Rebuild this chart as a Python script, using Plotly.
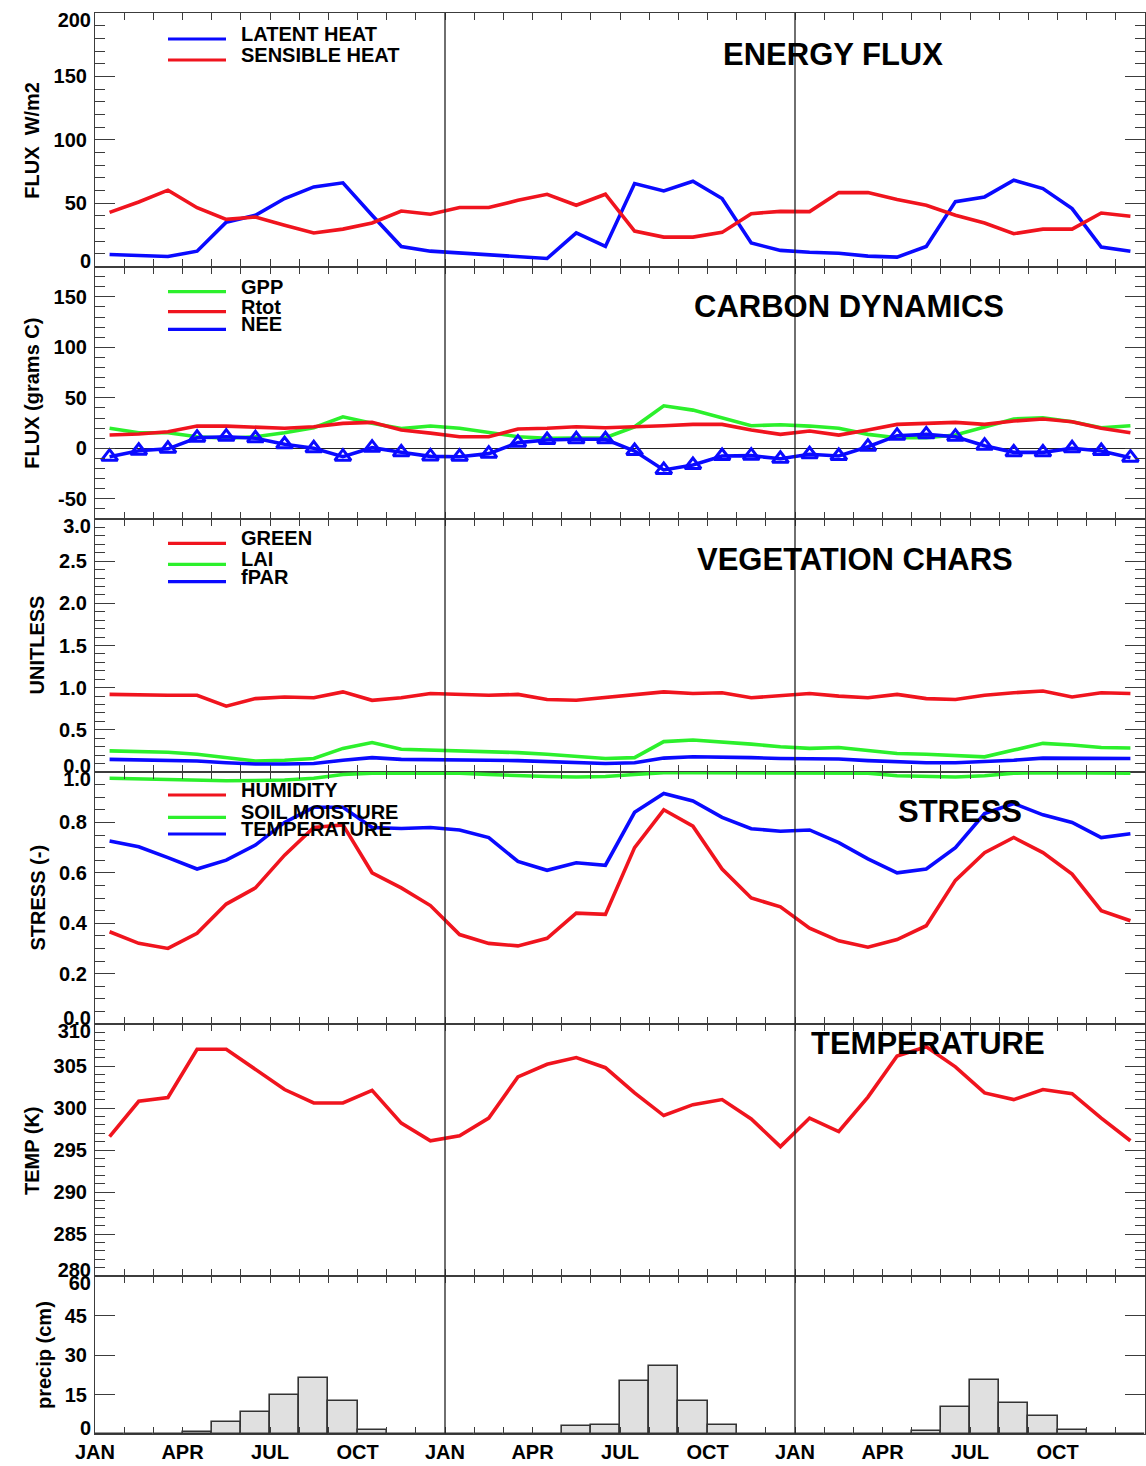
import plotly.graph_objects as go

# ---------------- data ----------------
month_index = list(range(36))
month_centers = [m + 0.5 for m in month_index]
tick_months = list(range(37))
month_names = ["JAN", "FEB", "MAR", "APR", "MAY", "JUN", "JUL", "AUG", "SEP", "OCT", "NOV", "DEC"]
x_tick_text = [month_names[m % 12] if (m % 3 == 0 and m < 36) else "" for m in tick_months]

latent_heat = [9.5, 8.7, 7.9, 12.1, 35.0, 40.4, 53.6, 62.8, 66.0, 40.4, 15.8, 12.1,
               10.5, 9.0, 7.4, 6.3, 26.6, 15.8, 65.4, 59.6, 67.3, 53.6, 18.5, 12.7,
               11.3, 10.5, 8.2, 7.4, 15.8, 51.2, 54.9, 68.1, 61.5, 45.7, 15.3, 12.1]
sensible_heat = [42.7, 50.9, 60.2, 46.4, 37.2, 39.0, 32.5, 26.4, 29.5, 34.3, 43.8, 41.2,
                 46.5, 46.5, 52.2, 57.0, 48.3, 57.0, 28.0, 23.2, 23.2, 26.9, 41.7, 43.5,
                 43.3, 58.3, 58.3, 52.8, 48.3, 40.4, 34.3, 25.9, 29.5, 29.5, 42.2, 39.6]

gpp = [19.8, 15.4, 15.4, 11.5, 9.9, 11.5, 15.4, 20.4, 31.2, 24.7, 19.5, 22.0,
       19.8, 15.8, 11.5, 9.9, 9.9, 10.5, 21.3, 42.1, 37.8, 30.3, 22.4, 23.3,
       22.0, 19.8, 13.8, 10.5, 10.5, 13.1, 21.3, 29.0, 30.3, 26.3, 20.4, 22.4]
rtot = [13.1, 14.1, 16.4, 22.0, 22.0, 21.3, 19.8, 21.3, 24.7, 25.7, 18.1, 15.0,
        11.5, 11.5, 19.1, 19.8, 21.3, 20.4, 21.0, 22.4, 23.7, 23.7, 18.1, 13.8,
        17.1, 13.1, 18.1, 23.7, 24.7, 25.7, 23.7, 27.0, 29.0, 26.3, 19.8, 15.4]
nee = [-8.3, -2.4, -0.5, 10.5, 11.5, 9.9, 4.0, 0.0, -8.3, 0.6, -4.0, -8.0,
       -8.3, -5.3, 5.6, 8.2, 8.9, 8.9, -2.7, -21.4, -16.5, -7.6, -7.3, -10.4,
       -5.9, -7.6, 1.6, 12.5, 13.8, 11.5, 2.6, -4.0, -4.0, 0.0, -2.7, -9.3]

green_frac = [0.92, 0.91, 0.91, 0.91, 0.78, 0.87, 0.89, 0.88, 0.95, 0.85, 0.88, 0.93,
              0.92, 0.91, 0.92, 0.86, 0.85, 0.88, 0.91, 0.95, 0.93, 0.94, 0.88, 0.90,
              0.93, 0.90, 0.88, 0.92, 0.87, 0.86, 0.91, 0.94, 0.96, 0.89, 0.94, 0.93]
lai = [0.25, 0.245, 0.235, 0.21, 0.17, 0.13, 0.14, 0.16, 0.28, 0.35, 0.27, 0.26,
       0.255, 0.24, 0.23, 0.21, 0.19, 0.16, 0.17, 0.36, 0.38, 0.36, 0.33, 0.30,
       0.28, 0.29, 0.25, 0.22, 0.21, 0.20, 0.18, 0.26, 0.34, 0.32, 0.29, 0.285]
fpar = [0.15, 0.145, 0.14, 0.13, 0.11, 0.095, 0.095, 0.10, 0.14, 0.17, 0.15, 0.15,
        0.15, 0.14, 0.135, 0.12, 0.11, 0.10, 0.11, 0.165, 0.18, 0.18, 0.17, 0.16,
        0.155, 0.155, 0.135, 0.12, 0.11, 0.11, 0.12, 0.14, 0.165, 0.165, 0.16, 0.16]

humidity_stress = [0.366, 0.32, 0.30, 0.36, 0.476, 0.54, 0.67, 0.78, 0.79, 0.60, 0.54, 0.47,
                   0.355, 0.32, 0.31, 0.34, 0.44, 0.435, 0.70, 0.85, 0.785, 0.615, 0.50, 0.465,
                   0.38, 0.33, 0.305, 0.335, 0.39, 0.57, 0.68, 0.74, 0.68, 0.595, 0.45, 0.41]
soil_moisture_stress = [0.975, 0.972, 0.97, 0.966, 0.965, 0.966, 0.968, 0.975, 0.99, 0.995, 0.995, 0.995,
                        0.995, 0.99, 0.985, 0.982, 0.98, 0.982, 0.99, 0.997, 0.997, 0.997, 0.997, 0.997,
                        0.997, 0.997, 0.995, 0.985, 0.982, 0.98, 0.985, 0.995, 0.997, 0.997, 0.997, 0.995]
temperature_stress = [0.726, 0.703, 0.66, 0.615, 0.65, 0.71, 0.80, 0.86, 0.86, 0.78, 0.776, 0.78,
                      0.77, 0.74, 0.645, 0.61, 0.64, 0.63, 0.84, 0.915, 0.885, 0.82, 0.775, 0.765,
                      0.77, 0.72, 0.655, 0.60, 0.615, 0.70, 0.835, 0.875, 0.83, 0.80, 0.74, 0.755]

temperature_k = [296.6, 300.8, 301.25, 307.0, 307.0, 304.6, 302.2, 300.6, 300.6, 302.1, 298.2, 296.1,
                 296.7, 298.8, 303.7, 305.2, 306.0, 304.8, 301.8, 299.1, 300.4, 301.0, 298.7, 295.4,
                 298.8, 297.2, 301.3, 306.2, 307.3, 304.9, 301.8, 301.0, 302.2, 301.7, 298.8, 296.1]

precip_cm = [0, 0, 0, 0.8, 4.6, 8.4, 15.0, 21.3, 12.4, 1.6, 0, 0,
             0, 0, 0, 0, 3.0, 3.5, 20.3, 26.0, 12.4, 3.3, 0, 0,
             0, 0, 0, 0, 1.2, 10.1, 20.4, 11.8, 6.7, 1.6, 0, 0]

# ---------------- styling / layout ----------------
FONT = "Liberation Sans, Arial, Helvetica, sans-serif"
AXC = "#3c3c3c"
RED = "#f0141e"
GREEN = "#2cf02c"
BLUE = "#0a0aff"
LW = 3.6

W_FIG, H_FIG = 1146, 1466
M_L, M_R, M_T, M_B = 95, 1, 13, 32
PW = W_FIG - M_L - M_R
PH = H_FIG - M_T - M_B


def xp(px):
    return (px - M_L) / PW


def yp(py):
    return (M_T + PH - py) / PH


# panel pixel boundaries (top -> bottom)
bounds = [13, 266.5, 519, 772, 1024, 1276, 1434]
domains = [[yp(bounds[i + 1]), yp(bounds[i])] for i in range(6)]

panels = [
    dict(rng=[0, 200], vals=[0, 50, 100, 150, 200], minor=10, ends=True),
    dict(rng=[-70, 180], vals=[-50, 0, 50, 100, 150], minor=10, ends=False),
    dict(rng=[0, 3], vals=[0, 0.5, 1.0, 1.5, 2.0, 2.5, 3.0], minor=0.1, ends=True),
    dict(rng=[0, 1], vals=[0, 0.2, 0.4, 0.6, 0.8, 1.0], minor=0.05, ends=True),
    dict(rng=[280, 310], vals=[280, 285, 290, 295, 300, 305, 310], minor=1, ends=True),
    dict(rng=[0, 60], vals=[0, 15, 30, 45, 60], minor=None, ends=True),
]
label_fmt = [lambda v: f"{v:.0f}", lambda v: f"{v:.0f}", lambda v: f"{v:.1f}",
             lambda v: f"{v:.1f}", lambda v: f"{v:.0f}", lambda v: f"{v:.0f}"]

tickfont = dict(family=FONT, size=20, color="black", weight="bold")

fig = go.Figure()

# panel 1: energy flux
fig.add_trace(go.Scatter(x=month_centers, y=latent_heat, mode="lines", name="LATENT HEAT",
                         line=dict(color=BLUE, width=LW), xaxis="x", yaxis="y", showlegend=False))
fig.add_trace(go.Scatter(x=month_centers, y=sensible_heat, mode="lines", name="SENSIBLE HEAT",
                         line=dict(color=RED, width=LW), xaxis="x", yaxis="y", showlegend=False))
# panel 2: carbon
fig.add_trace(go.Scatter(x=month_centers, y=gpp, mode="lines", name="GPP",
                         line=dict(color=GREEN, width=LW), xaxis="x2", yaxis="y2", showlegend=False))
fig.add_trace(go.Scatter(x=month_centers, y=rtot, mode="lines", name="Rtot",
                         line=dict(color=RED, width=LW), xaxis="x2", yaxis="y2", showlegend=False))
fig.add_trace(go.Scatter(x=month_centers, y=nee, mode="lines+markers", name="NEE",
                         line=dict(color=BLUE, width=LW),
                         marker=dict(symbol="triangle-up-open", size=14, color=BLUE,
                                     line=dict(color=BLUE, width=3)),
                         xaxis="x2", yaxis="y2", showlegend=False))
# panel 3: vegetation
fig.add_trace(go.Scatter(x=month_centers, y=green_frac, mode="lines", name="GREEN",
                         line=dict(color=RED, width=LW), xaxis="x3", yaxis="y3", showlegend=False))
fig.add_trace(go.Scatter(x=month_centers, y=lai, mode="lines", name="LAI",
                         line=dict(color=GREEN, width=LW), xaxis="x3", yaxis="y3", showlegend=False))
fig.add_trace(go.Scatter(x=month_centers, y=fpar, mode="lines", name="fPAR",
                         line=dict(color=BLUE, width=LW), xaxis="x3", yaxis="y3", showlegend=False))
# panel 4: stress
fig.add_trace(go.Scatter(x=month_centers, y=humidity_stress, mode="lines", name="HUMIDITY",
                         line=dict(color=RED, width=LW), xaxis="x4", yaxis="y4", showlegend=False))
fig.add_trace(go.Scatter(x=month_centers, y=soil_moisture_stress, mode="lines", name="SOIL MOISTURE",
                         line=dict(color=GREEN, width=LW), xaxis="x4", yaxis="y4", showlegend=False))
fig.add_trace(go.Scatter(x=month_centers, y=temperature_stress, mode="lines", name="TEMPERATURE",
                         line=dict(color=BLUE, width=LW), xaxis="x4", yaxis="y4", showlegend=False))
# panel 5: temperature
fig.add_trace(go.Scatter(x=month_centers, y=temperature_k, mode="lines", name="TEMP",
                         line=dict(color=RED, width=LW), xaxis="x5", yaxis="y5", showlegend=False))
# panel 6: precipitation
fig.add_trace(go.Bar(x=month_centers, y=precip_cm, width=1, name="precip",
                     marker=dict(color="#e0e0e0", line=dict(color="#333333", width=1.6)),
                     xaxis="x6", yaxis="y6", showlegend=False))

layout = dict(width=W_FIG, height=H_FIG, margin=dict(l=M_L, r=M_R, t=M_T, b=M_B),
              paper_bgcolor="white", plot_bgcolor="white", bargap=0,
              font=dict(family=FONT, color="black"))

overlay_id = 7
for i, p in enumerate(panels, start=1):
    fmt = label_fmt[i - 1]
    vals = p["vals"]
    if p["ends"]:
        labels = [""] + [fmt(v) for v in vals[1:-1]] + [""]
    else:
        labels = [fmt(v) for v in vals]
    yk = "yaxis" if i == 1 else f"yaxis{i}"
    xk = "xaxis" if i == 1 else f"xaxis{i}"
    xa = "x" if i == 1 else f"x{i}"
    ya = "y" if i == 1 else f"y{i}"
    ycfg = dict(domain=domains[i - 1], range=p["rng"], anchor=xa, tickmode="array",
                tickvals=vals, ticktext=labels, ticks="inside", ticklen=20, tickwidth=1.3,
                tickcolor=AXC, showline=True, linecolor=AXC, linewidth=1.2, mirror="ticks",
                showgrid=False, zeroline=(i == 2), zerolinecolor="#222222", zerolinewidth=1.4,
                tickfont=tickfont, ticklabelstandoff=3, fixedrange=True)
    if p["minor"]:
        ycfg["minor"] = dict(dtick=p["minor"], tick0=0, ticks="inside", ticklen=10,
                             tickwidth=1.3, tickcolor=AXC, showgrid=False)
    layout[yk] = ycfg
    layout[xk] = dict(domain=[0, 1], range=[0, 36], anchor=ya, tickmode="array",
                      tickvals=tick_months, ticktext=x_tick_text, ticks="inside", ticklen=7,
                      tickwidth=1.3, tickcolor=AXC, showline=True, linecolor=AXC, linewidth=1.2,
                      mirror="ticks", showgrid=False, zeroline=False,
                      showticklabels=(i == 6), tickfont=tickfont, fixedrange=True)
    if i > 1:
        layout[xk]["matches"] = "x"
    # end labels drawn slightly inside the panel (as in the original)
    if p["ends"]:
        for v, shift in ((vals[0], -6), (vals[-1], 7)):
            layout[f"yaxis{overlay_id}"] = dict(
                overlaying=ya, anchor=xa, range=p["rng"], tickmode="array", tickvals=[v],
                ticktext=[fmt(v)], ticks="", showline=False, showgrid=False, zeroline=False,
                side="left", ticklabelshift=shift, ticklabelstandoff=3, tickfont=tickfont,
                fixedrange=True)
            fig.add_trace(go.Scatter(x=[None], y=[None], xaxis=xa, yaxis=f"y{overlay_id}",
                                     showlegend=False, hoverinfo="skip"))
            overlay_id += 1

fig.update_layout(**layout)

# year separators
for yr in (12, 24):
    fig.add_shape(type="line", xref="x", yref="paper", x0=yr, x1=yr, y0=0, y1=1,
                  line=dict(color="#222222", width=1.3))

# panel titles
titles = [("ENERGY FLUX", 833, 54), ("CARBON DYNAMICS", 849, 306),
          ("VEGETATION CHARS", 854.5, 559), ("STRESS", 959.5, 811), ("TEMPERATURE", 928, 1043)]
for txt, cx, cy in titles:
    fig.add_annotation(text=txt, x=xp(cx), y=yp(cy), xref="paper", yref="paper",
                       xanchor="center", yanchor="middle", showarrow=False,
                       font=dict(family=FONT, size=31, color="black", weight="bold"))

# y-axis titles
ytitles = [("FLUX  W/m2", 31.7, 140), ("FLUX (grams C)", 31.7, 393), ("UNITLESS", 36.5, 645),
           ("STRESS (-)", 37.5, 898), ("TEMP (K)", 32, 1151), ("precip (cm)", 44, 1355)]
for txt, cx, cy in ytitles:
    fig.add_annotation(text=txt, x=xp(cx), y=yp(cy), xref="paper", yref="paper",
                       xanchor="center", yanchor="middle", showarrow=False, textangle=-90,
                       font=dict(family=FONT, size=20, color="black", weight="bold"))

# in-panel legends (key line + label)
legend_items = [
    ("LATENT HEAT", BLUE, 39), ("SENSIBLE HEAT", RED, 60),
    ("GPP", GREEN, 291.7), ("Rtot", RED, 311.7), ("NEE", BLUE, 329.3),
    ("GREEN", RED, 543.3), ("LAI", GREEN, 564.3), ("fPAR", BLUE, 581.7),
    ("HUMIDITY", RED, 795), ("SOIL MOISTURE", GREEN, 817.3), ("TEMPERATURE", BLUE, 834),
]
for txt, col, ly in legend_items:
    fig.add_shape(type="line", xref="paper", yref="paper", x0=xp(168), x1=xp(226),
                  y0=yp(ly), y1=yp(ly), line=dict(color=col, width=3.2))
    fig.add_annotation(text=txt, x=xp(239), y=yp(ly - 5), xref="paper", yref="paper",
                       xanchor="left", yanchor="middle", showarrow=False,
                       font=dict(family=FONT, size=20, color="black", weight="bold"))

fig.write_html("out.html", config={"displayModeBar": False},
               post_script="document.body.style.margin='0px';")
